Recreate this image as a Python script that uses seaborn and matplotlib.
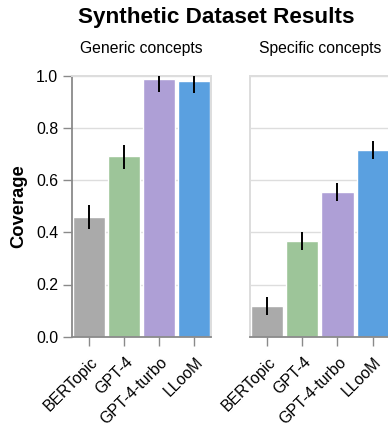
import matplotlib
matplotlib.use("Agg")
import matplotlib.pyplot as plt
import matplotlib.transforms as mtransforms
import seaborn as sns
import pandas as pd

# dados
modelos = ['BERTopic', 'GPT-4', 'GPT-4-turbo', 'LLooM']
cores = ['#aaaaaa', '#9dc599', '#ae9fd6', '#5aa0e0']

generico = [0.459, 0.692, 0.987, 0.980]
generico_low = [0.411, 0.643, 0.937, 0.933]
generico_high = [0.504, 0.735, 1.03, 1.03]

especifico = [0.118, 0.367, 0.554, 0.715]
especifico_low = [0.083, 0.332, 0.520, 0.681]
especifico_high = [0.152, 0.401, 0.589, 0.750]

titulos = ['Generic concepts', 'Specific concepts']
yticks = [0.0, 0.2, 0.4, 0.6, 0.8, 1.0]

sns.set_theme(style='white')
plt.rcParams['font.family'] = ['Liberation Sans', 'DejaVu Sans']
plt.rcParams['text.color'] = 'black'
plt.rcParams['axes.labelcolor'] = 'black'
plt.rcParams['xtick.labelcolor'] = 'black'
plt.rcParams['ytick.labelcolor'] = 'black'

W, H = 388, 429
fig = plt.figure(figsize=(W / 100, H / 100), dpi=100)

def px_axes(x0, y0, x1, y1):
    return fig.add_axes([x0 / W, 1 - y1 / H, (x1 - x0) / W, (y1 - y0) / H])

ax1 = px_axes(72, 75.7, 211, 336.7)
ax2 = px_axes(250, 75.7, 390, 336.7)

paleta = dict(zip(modelos, cores))
dados = [(generico, generico_low, generico_high), (especifico, especifico_low, especifico_high)]

cinza_eixo = '#8a8a8a'
cinza_grade = '#dddddd'

for i, (ax, (vals, lo, hi), titulo) in enumerate(zip([ax1, ax2], dados, titulos)):
    df = pd.DataFrame({'modelo': modelos, 'valor': vals})
    ax.set_axisbelow(True)
    ax.yaxis.grid(True, color=cinza_grade, linewidth=1.0)
    sns.barplot(data=df, x='modelo', y='valor', hue='modelo', palette=paleta,
                order=modelos, hue_order=modelos, width=0.91, saturation=1,
                legend=False, ax=ax)
    ax.vlines(range(len(modelos)), lo, hi, color='black', linewidth=1.4, zorder=3)
    ax.set_xlim(-0.48, 3.49)
    ax.set_ylim(0, 1)
    ax.set_yticks(yticks)
    ax.set_xlabel('')
    ax.set_ylabel('')
    ax.set_title(titulo, fontsize=11.3, pad=16, color='black')

    for lado in ['top', 'right']:
        ax.spines[lado].set_color(cinza_grade)
        ax.spines[lado].set_linewidth(1.4)
    ax.spines['bottom'].set_color(cinza_eixo)
    ax.spines['bottom'].set_linewidth(1.3)
    ax.tick_params(axis='x', length=6.5, width=1.0, color=cinza_eixo,
                   labelsize=11.4, pad=2, bottom=True, labelcolor='black')
    # deslocamento dos rótulos rotacionados (em pixels)
    offset = mtransforms.ScaledTranslation(1 / 100, -6 / 100, fig.dpi_scale_trans)
    for lab in ax.get_xticklabels():
        lab.set_rotation(45)
        lab.set_ha('right')
        lab.set_va('top')
        lab.set_rotation_mode('anchor')
        lab.set_transform(lab.get_transform() + offset)

    if i == 0:
        ax.spines['left'].set_color(cinza_eixo)
        ax.spines['left'].set_linewidth(1.3)
        ax.tick_params(axis='y', length=6.5, width=1.0, color=cinza_eixo,
                       labelsize=11.4, pad=3.5, left=True, labelcolor='black')
        ax.set_yticklabels([f'{t:.1f}' for t in yticks])
        ax.set_ylabel('Coverage', fontsize=13.2, fontweight='bold', labelpad=6,
                      color='black')
    else:
        ax.spines['left'].set_color(cinza_grade)
        ax.spines['left'].set_linewidth(1.4)
        ax.tick_params(axis='y', left=False, labelleft=False)

fig.text(216 / W, 1 - 23 / H, 'Synthetic Dataset Results', ha='center', va='baseline',
         fontsize=16.2, fontweight='bold', color='black')

fig.savefig('out.png', dpi=100)
